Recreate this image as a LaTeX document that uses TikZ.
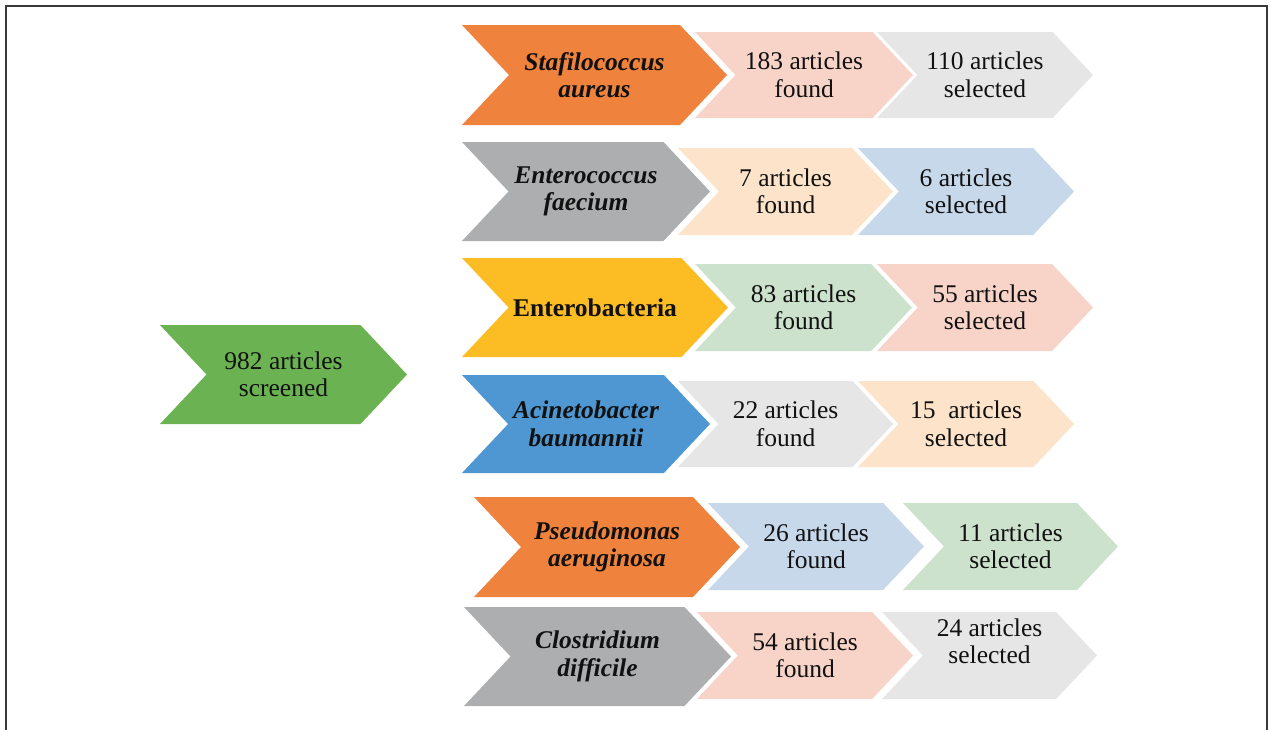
\documentclass[tikz,border=0pt]{standalone}
\usepackage{fontspec}
\setmainfont{Liberation Serif}
\definecolor{corange}{HTML}{EF823D}
\definecolor{cgray}{HTML}{ACAEAF}
\definecolor{cyellow}{HTML}{FCBC23}
\definecolor{cblue}{HTML}{4F97D3}
\definecolor{cgreen}{HTML}{6BB352}
\definecolor{lpink}{HTML}{F7D3C8}
\definecolor{lgray}{HTML}{E6E6E6}
\definecolor{lpeach}{HTML}{FCE3CA}
\definecolor{lblue}{HTML}{C7D8EB}
\definecolor{lgreen}{HTML}{CDE2CC}
\definecolor{framecol}{HTML}{3A3A3A}
\definecolor{txtcol}{HTML}{111111}
\newcommand\mychev[8]{%
  \pgfmathsetmacro\chd{0.47*(#5-#4)}%
  \pgfmathsetmacro\chm{(#4+#5)/2}%
  \fill[#6] (#2,#4) -- (#3-\chd,#4) -- (#3,\chm) -- (#3-\chd,#5) -- (#2,#5) -- (#2+\chd,\chm) -- cycle;
  \node[txt,#7] (#1) at ({(#2+#3)/2},\chm) {#8};
}
\begin{document}
\begin{tikzpicture}[x=1pt,y=-1pt,
  txt/.style={font=\fontsize{25.5}{27.5}\selectfont, align=center, inner sep=0pt, text=txtcol},
  sp/.style={font=\fontsize{25.5}{27.5}\selectfont\bfseries\itshape},
  spb/.style={font=\fontsize{25.5}{27.5}\selectfont\bfseries}]
\useasboundingbox (0,0) rectangle (1271,729);
\draw[framecol, line width=2pt] (6,740) -- (6,6) -- (1267,6) -- (1267,740);

\mychev{g}{160}{407}{325}{424}{cgreen}{}{982 articles\\screened}

\mychev{s1}{462}{727}{25}{125}{corange}{sp}{Stafilococcus\\aureus}
\mychev{f1}{695}{913}{32}{118}{lpink}{}{183 articles\\found}
\mychev{c1}{877}{1093}{32}{118}{lgray}{}{110 articles\\selected}

\mychev{s2}{462}{710}{142}{241}{cgray}{sp}{Enterococcus\\faecium}
\mychev{f2}{678}{893}{148}{235}{lpeach}{}{7 articles\\found}
\mychev{c2}{858}{1074}{148}{235}{lblue}{}{6 articles\\selected}

\mychev{s3}{462}{728}{258}{357}{cyellow}{spb}{Enterobacteria}
\mychev{f3}{695}{912}{264}{351}{lgreen}{}{83 articles\\found}
\mychev{c3}{877}{1093}{264}{351}{lpink}{}{55 articles\\selected}

\mychev{s4}{462}{710}{375}{473}{cblue}{sp}{Acinetobacter\\baumannii}
\mychev{f4}{678}{893}{381}{467}{lgray}{}{22 articles\\found}
\mychev{c4}{858}{1074}{381}{467}{lpeach}{}{15\ \ articles\\selected}

\mychev{s5}{474}{740}{497}{597}{corange}{sp}{Pseudomonas\\aeruginosa}
\mychev{f5}{708}{924}{503}{590}{lblue}{}{26 articles\\found}
\mychev{c5}{903}{1118}{503}{590}{lgreen}{}{11 articles\\selected}

\mychev{s6}{464}{731}{607}{706}{cgray}{sp}{Clostridium\\difficile}
\mychev{f6}{697}{913}{612}{699}{lpink}{}{54 articles\\found}
\mychev{c6}{882}{1097}{612}{699}{lgray}{yshift=14pt}{24 articles\\selected}
\end{tikzpicture}
\end{document}
